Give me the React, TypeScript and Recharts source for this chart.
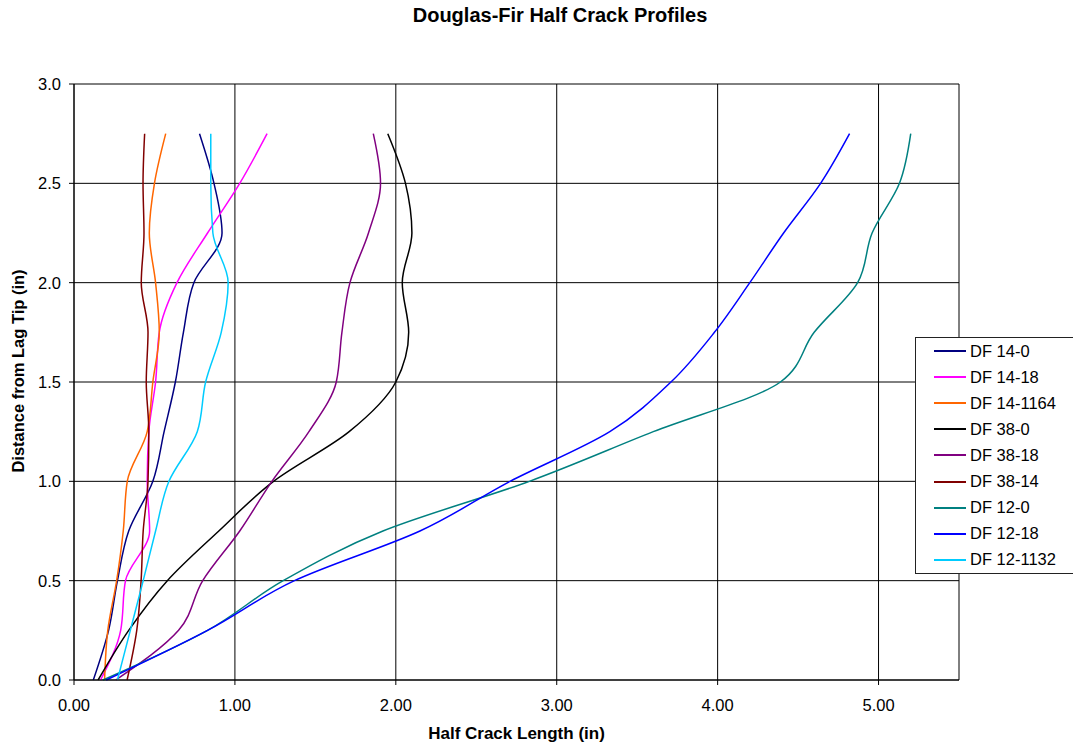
import { LineChart, Line, XAxis, YAxis, CartesianGrid, Label } from 'recharts';

// depth below the lag tip at which each half crack length was measured (in)
const depthLevels = [0, 0.25, 0.5, 0.75, 1, 1.25, 1.5, 1.75, 2, 2.25, 2.5, 2.75];

// half crack length (in) at each depth level, per specimen
const df14_0 = [0.12, 0.215, 0.27, 0.34, 0.49, 0.56, 0.63, 0.68, 0.745, 0.92, 0.87, 0.78];
const df14_18 = [0.165, 0.29, 0.32, 0.47, 0.455, 0.465, 0.507, 0.53, 0.64, 0.83, 1.03, 1.2];
const df14_1164 = [0.19, 0.21, 0.265, 0.306, 0.331, 0.455, 0.49, 0.53, 0.507, 0.468, 0.5, 0.57];
const df38_0 = [0.15, 0.34, 0.58, 0.9, 1.24, 1.71, 2.0, 2.08, 2.04, 2.1, 2.06, 1.95];
const df38_18 = [0.26, 0.65, 0.8, 1.03, 1.23, 1.46, 1.63, 1.665, 1.715, 1.83, 1.905, 1.86];
const df38_14 = [0.33, 0.39, 0.417, 0.43, 0.46, 0.465, 0.449, 0.46, 0.418, 0.435, 0.429, 0.439];
const df12_0 = [0.18, 0.83, 1.3, 1.92, 2.83, 3.6, 4.39, 4.6, 4.87, 4.96, 5.13, 5.2];
const df12_18 = [0.2, 0.83, 1.37, 2.15, 2.71, 3.33, 3.71, 3.98, 4.2, 4.41, 4.64, 4.82];
const df12_1132 = [0.27, 0.35, 0.43, 0.507, 0.59, 0.766, 0.818, 0.915, 0.958, 0.863, 0.85, 0.85];

const seriesNames = [
  'DF 14-0',
  'DF 14-18',
  'DF 14-1164',
  'DF 38-0',
  'DF 38-18',
  'DF 38-14',
  'DF 12-0',
  'DF 12-18',
  'DF 12-1132',
];
const seriesValues = [df14_0, df14_18, df14_1164, df38_0, df38_18, df38_14, df12_0, df12_18, df12_1132];
const seriesColors = [
  '#000080',
  '#FF00FF',
  '#FF6600',
  '#000000',
  '#800080',
  '#800000',
  '#008080',
  '#0000FF',
  '#00CCFF',
];

const xTicks = [0, 1, 2, 3, 4, 5];
const yTicks = [0, 0.5, 1, 1.5, 2, 2.5, 3];

const FONT = '"Liberation Sans", Arial, sans-serif';

const series = seriesNames.map((name, i) => ({
  name,
  color: seriesColors[i],
  data: depthLevels.map((depth, j) => ({ x: seriesValues[i][j], y: depth })),
}));

export default function App() {
  return (
    <div
      style={{
        position: 'absolute',
        left: 0,
        top: 0,
        width: 1073,
        height: 748,
        overflow: 'hidden',
        background: '#fff',
        fontFamily: FONT,
      }}
    >
      <div
        style={{
          position: 'absolute',
          left: 360,
          width: 400,
          top: 5,
          textAlign: 'center',
          fontWeight: 'bold',
          fontSize: 20,
          lineHeight: '20px',
          color: '#000',
        }}
      >
        Douglas-Fir Half Crack Profiles
      </div>

      <LineChart width={1073} height={748} margin={{ top: 84, right: 114, bottom: 0, left: 0 }}>
        <CartesianGrid stroke="#000" strokeWidth={1} ticks={undefined} />
        <XAxis
          dataKey="x"
          type="number"
          domain={[0, 5.5]}
          ticks={xTicks}
          tickFormatter={(v: number) => v.toFixed(2)}
          allowDataOverflow
          height={68}
          stroke="#000"
          tickSize={5}
          tickMargin={14}
          tick={{ fill: '#000', fontSize: 16.5, fontFamily: FONT }}
        >
          <Label
            content={({ viewBox }: any) => (
              <text
                x={viewBox.x + viewBox.width / 2}
                y={viewBox.y + 59}
                textAnchor="middle"
                fontFamily={FONT}
                fontSize={17}
                fontWeight="bold"
                fill="#000"
              >
                Half Crack Length (in)
              </text>
            )}
          />
        </XAxis>
        <YAxis
          type="number"
          domain={[0, 3]}
          ticks={yTicks}
          tickFormatter={(v: number) => v.toFixed(1)}
          width={74}
          stroke="#000"
          tickSize={5}
          tickMargin={8}
          tick={{ fill: '#000', fontSize: 16.5, fontFamily: FONT }}
        >
          <Label
            content={() => (
              <text
                x={18}
                y={371}
                transform="rotate(-90 18 371)"
                textAnchor="middle"
                dominantBaseline="central"
                fontFamily={FONT}
                fontSize={16.5}
                fontWeight="bold"
                fill="#000"
              >
                Distance from Lag Tip (in)
              </text>
            )}
          />
        </YAxis>
        {series.map((s) => (
          <Line
            key={s.name}
            name={s.name}
            data={s.data}
            dataKey="y"
            type="monotoneY"
            stroke={s.color}
            strokeWidth={1.5}
            dot={false}
            activeDot={false}
            isAnimationActive={false}
          />
        ))}
      </LineChart>

      {/* legend box overlaps the right edge of the plot, as in the original */}
      <div
        style={{
          position: 'absolute',
          left: 915,
          top: 337,
          width: 170,
          height: 235,
          border: '1px solid #222',
          background: '#fff',
        }}
      >
        {series.map((s, i) => (
          <div
            key={s.name}
            style={{
              position: 'absolute',
              left: 18,
              top: 1 + i * 26.1,
              height: 24,
              display: 'flex',
              alignItems: 'center',
              fontSize: 16.5,
              color: '#000',
              whiteSpace: 'nowrap',
            }}
          >
            <span
              style={{
                display: 'inline-block',
                width: 32,
                height: 0,
                borderTop: `2px solid ${s.color}`,
                marginRight: 4,
              }}
            />
            {s.name}
          </div>
        ))}
      </div>
    </div>
  );
}
